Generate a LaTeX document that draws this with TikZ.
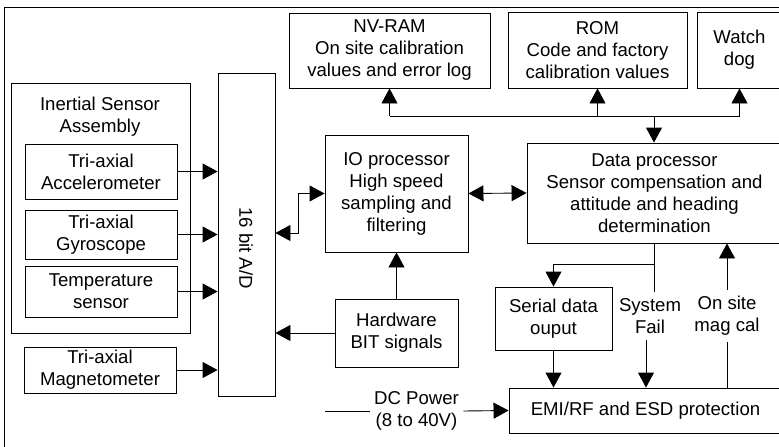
\documentclass[tikz,border=0pt]{standalone}
\usepackage{fontspec}
\setmainfont{Liberation Sans}
\usetikzlibrary{positioning, arrows.meta}

\begin{document}
\begin{tikzpicture}[x=1pt, y=-1pt, line width=0.9pt, every node/.style={font=\fontsize{18.6}{22}\selectfont}]
  \tikzstyle{block} = [rectangle, draw=black, align=center, inner sep=0pt]
  \tikzstyle{txt} = [align=center, inner xsep=4pt, inner ysep=6pt]
  \tikzstyle{arrow} = [-{Triangle[length=15pt, width=16pt]}]
  \tikzstyle{dblarrow} = [{Triangle[length=15pt, width=16pt]}-{Triangle[length=15pt, width=16pt]}]

  \useasboundingbox (0,0) rectangle (779,447);
  \draw (4,460) -- (4,7) -- (790,7);

  \node (isa) [block, minimum width=179pt, minimum height=250pt] at (100.5,208) {};
  \node (isatitle) [txt] at (100,117) {Inertial Sensor\\Assembly};
  \node (acc) [block, minimum width=152pt, minimum height=55pt] at (101,171.5) {Tri-axial\\Accelerometer};
  \node (gyro) [block, minimum width=152pt, minimum height=49pt] at (101,234.5) {Tri-axial\\Gyroscope};
  \node (temp) [block, minimum width=152pt, minimum height=51pt] at (101,291.5) {Temperature\\sensor};
  \node (mag) [block, minimum width=152pt, minimum height=46pt] at (100,370) {Tri-axial\\Magnetometer};
  \node (ad) [block, minimum width=57pt, minimum height=323pt] at (246.5,234.5) {};
  \node (adtext) [txt, rotate=-90] at (246,248) {16 bit A/D};
  \node (io) [block, minimum width=143pt, minimum height=117pt] at (396.5,193.5) {IO processor\\High speed\\sampling and\\filtering};
  \node (hw) [block, minimum width=123pt, minimum height=68pt] at (396.5,333) {Hardware\\BIT signals};
  \node (nvram) [block, minimum width=201pt, minimum height=75pt] at (389.5,50.5) {NV-RAM\\On site calibration\\values and error log};
  \node (rom) [block, minimum width=179pt, minimum height=76pt] at (597.5,50) {ROM\\Code and factory\\calibration values};
  \node (wd) [block, minimum width=85pt, minimum height=76pt] at (739.5,50) {Watch\\dog};
  \node (dp) [block, minimum width=255pt, minimum height=100pt] at (654.5,193) {Data processor\\Sensor compensation and\\attitude and heading\\determination};
  \node (serial) [block, minimum width=117pt, minimum height=63pt] at (553.5,318.5) {Serial data\\ouput};
  \node (sysfail) [txt] at (650,316) {System\\Fail};
  \node (magcal) [txt] at (727,316) {On site\\mag cal};
  \node (emi) [block, minimum width=273pt, minimum height=45pt] at (645.5,410.5) {EMI/RF and ESD protection};
  \node (dcpower) [txt] at (416.5,411) {DC Power\\(8 to 40V)};
  \coordinate (dcin) at (325,411);
  \coordinate (adio) at (298,233);
  \coordinate (bus) at (654,116);
  \coordinate (split) at (654,264);

  \draw [arrow] (acc.east) -- (acc.east -| ad.west);
  \draw [arrow] (gyro.east) -- (gyro.east -| ad.west);
  \draw [arrow] (temp.east) -- (temp.east -| ad.west);
  \draw [arrow] (mag.east) -- (mag.east -| ad.west);
  \draw [dblarrow] (ad.east |- adio) -- (adio) |- (io.west);
  \draw [arrow] (hw.west) -- (hw.west -| ad.east);
  \draw [arrow] (hw.north) -- (io.south);
  \draw [dblarrow] (io.east) -- (dp.west);
  \draw (bus -| nvram.south) -- (bus -| wd.south);
  \draw [arrow] (bus -| nvram.south) -- (nvram.south);
  \draw [arrow] (bus -| rom.south) -- (rom.south);
  \draw [arrow] (bus -| wd.south) -- (wd.south);
  \draw [arrow] (bus) -- (bus |- dp.north);
  \draw (split |- dp.south) -- (split |- sysfail.north);
  \draw [arrow] (split) -| (serial.north);
  \draw [arrow] ([xshift=-4pt]sysfail.south) -- ([xshift=-4pt]sysfail.south |- emi.north);
  \draw [arrow] (serial.south) -- (serial.south |- emi.north);
  \draw (emi.north -| magcal.south) -- (magcal.south);
  \draw [arrow] (magcal.north) -- (magcal.north |- dp.south);
  \draw (dcin) -- (dcpower.west);
  \draw [arrow] (dcpower.east) -- (emi.west);
\end{tikzpicture}
\end{document}
